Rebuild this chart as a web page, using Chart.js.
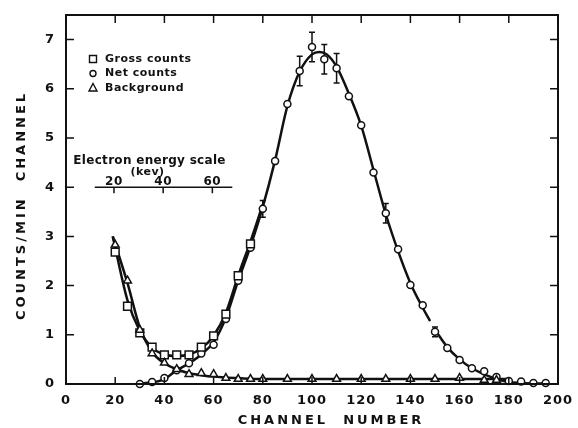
<!DOCTYPE html>
<html>
<head>
<meta charset="utf-8">
<script src="https://cdn.jsdelivr.net/npm/chart.js@4.4.0/dist/chart.umd.min.js"></script>
<style>
  html, body { margin: 0; padding: 0; background: #fff; }
</style>
</head>
<body>
<canvas id="spectrum" width="578" height="428"></canvas>
<script>
// measured points
const grossChannels = [20, 25, 30, 35, 40, 45, 50, 55, 60, 65, 70, 75];
const grossCounts = [2.68, 1.58, 1.04, 0.75, 0.59, 0.59, 0.59, 0.75, 0.98, 1.42, 2.2, 2.85];

const netChannels = [30, 35, 40, 45, 50, 55, 60, 65, 70, 75, 80, 85, 90, 95, 100, 105, 110, 115, 120, 125,
  130, 135, 140, 145, 150, 155, 160, 165, 170, 175, 180, 185, 190, 195];
const netCounts = [0.0, 0.04, 0.12, 0.28, 0.42, 0.62, 0.8, 1.32, 2.1, 2.77, 3.56, 4.53, 5.69, 6.36, 6.85, 6.6, 6.42, 5.85, 5.26, 4.3,
  3.47, 2.74, 2.01, 1.6, 1.06, 0.73, 0.49, 0.32, 0.26, 0.14, 0.06, 0.05, 0.02, 0.02];

const bgChannels = [20, 25, 30, 35, 40, 45, 50, 55, 60, 65, 70, 75, 80, 90, 100, 110, 120, 130, 140, 150, 160, 170, 175];
const bgCounts = [2.83, 2.1, 1.1, 0.62, 0.43, 0.3, 0.2, 0.22, 0.2, 0.12, 0.1, 0.1, 0.1, 0.1, 0.1, 0.1, 0.1, 0.1, 0.1, 0.1, 0.12, 0.08, 0.08];

// hand-drawn smooth curves
const grossCurveX = [19, 25, 30, 35, 40, 45, 50, 55, 60, 65, 70, 75, 80];
const grossCurveY = [3.0, 1.7, 1.08, 0.74, 0.6, 0.57, 0.6, 0.72, 0.98, 1.45, 2.2, 2.9, 3.65];

const netCurveX = [30, 40, 45, 50, 55, 60, 65, 70, 75, 80, 85, 90, 95, 100, 103, 106, 110, 115, 120, 125,
  130, 135, 140, 145, 148, null, 150, 155, 160, 165, 170, 175, 180, 185, 190, 195];
const netCurveY = [0.0, 0.1, 0.28, 0.42, 0.6, 0.85, 1.35, 2.1, 2.8, 3.6, 4.55, 5.65, 6.35, 6.7, 6.75, 6.7, 6.45, 5.9, 5.25, 4.35,
  3.45, 2.7, 2.05, 1.55, 1.28, null, 1.1, 0.75, 0.5, 0.32, 0.2, 0.1, 0.04, 0.02, 0.01, 0.01];

const bgCurveX = [19, 25, 30, 35, 40, 45, 50, 55, 60, 70, 80, 180];
const bgCurveY = [3.0, 2.05, 1.15, 0.65, 0.42, 0.3, 0.22, 0.18, 0.15, 0.12, 0.1, 0.1];

// error bars on net counts
const errChannels = [80, 95, 100, 105, 110, 130, 150];
const errSizes = [0.17, 0.3, 0.3, 0.3, 0.3, 0.2, 0.1];

// ticks
const xTicks = [0, 20, 40, 60, 80, 100, 120, 140, 160, 180, 200];
const yTicks = [0, 1, 2, 3, 4, 5, 6, 7];

// inset energy scale
const energyLabels = ['20', '40', '60'];
const energyTickChannels = [19.5, 39.5, 59.5];
const energyAxisFrom = 11.7;
const energyAxisTo = 67.6;
const energyAxisLevel = 4.0;

const legendItems = [
  { style: 'rect', text: 'Gross counts' },
  { style: 'circle', text: 'Net counts' },
  { style: 'triangle', text: 'Background' }
];

const ink = '#111';
const font = '"DejaVu Sans", sans-serif';

function pts(xs, ys) {
  return xs.map((v, i) => ({ x: v, y: ys[i] }));
}

function drawSymbol(ctx, style, x, y) {
  ctx.beginPath();
  if (style === 'rect') {
    ctx.rect(x - 3.5, y - 3.5, 7, 7);
  } else if (style === 'circle') {
    ctx.arc(x, y, 3, 0, Math.PI * 2);
  } else {
    ctx.moveTo(x, y - 4.5);
    ctx.lineTo(x + 4, y + 3);
    ctx.lineTo(x - 4, y + 3);
    ctx.closePath();
  }
  ctx.fillStyle = '#fff';
  ctx.fill();
  ctx.stroke();
}

const decorations = {
  id: 'decorations',
  beforeDraw(chart) {
    chart.ctx.letterSpacing = '1px';
  },
  beforeDatasetsDraw(chart) {
    const { ctx, scales: { x, y } } = chart;
    ctx.save();
    ctx.strokeStyle = ink;
    ctx.lineWidth = 1.5;
    errChannels.forEach((c, i) => {
      const v = netCounts[netChannels.indexOf(c)];
      const px = x.getPixelForValue(c);
      const top = y.getPixelForValue(v + errSizes[i]);
      const bot = y.getPixelForValue(v - errSizes[i]);
      ctx.beginPath();
      ctx.moveTo(px, top); ctx.lineTo(px, bot);
      ctx.moveTo(px - 3, top); ctx.lineTo(px + 3, top);
      ctx.moveTo(px - 3, bot); ctx.lineTo(px + 3, bot);
      ctx.stroke();
    });
    ctx.restore();
  },
  afterDraw(chart) {
    const { ctx, chartArea: a, scales: { x, y } } = chart;
    ctx.save();
    ctx.strokeStyle = ink;
    ctx.fillStyle = ink;

    // frame
    ctx.lineWidth = 2;
    ctx.strokeRect(a.left, a.top, a.right - a.left, a.bottom - a.top);

    // inward ticks on all four sides
    ctx.lineWidth = 1.5;
    ctx.beginPath();
    xTicks.forEach(t => {
      const px = x.getPixelForValue(t);
      ctx.moveTo(px, a.bottom); ctx.lineTo(px, a.bottom - 7);
      ctx.moveTo(px, a.top); ctx.lineTo(px, a.top + 8);
    });
    yTicks.forEach(t => {
      const py = y.getPixelForValue(t);
      ctx.moveTo(a.left, py); ctx.lineTo(a.left + 8, py);
      ctx.moveTo(a.right, py); ctx.lineTo(a.right - 8, py);
    });
    ctx.stroke();

    // legend
    ctx.lineWidth = 1.4;
    ctx.font = 'bold 11px ' + font;
    ctx.letterSpacing = '0.5px';
    ctx.textBaseline = 'middle';
    ctx.textAlign = 'left';
    legendItems.forEach((item, i) => {
      const ly = a.top + 44 + i * 14.5;
      drawSymbol(ctx, item.style, a.left + 27, ly);
      ctx.fillStyle = ink;
      ctx.fillText(item.text, a.left + 39, ly);
    });

    // electron energy inset
    const ey = y.getPixelForValue(energyAxisLevel);
    ctx.lineWidth = 1.5;
    ctx.beginPath();
    ctx.moveTo(x.getPixelForValue(energyAxisFrom), ey);
    ctx.lineTo(x.getPixelForValue(energyAxisTo), ey);
    energyTickChannels.forEach(c => {
      const px = x.getPixelForValue(c);
      ctx.moveTo(px, ey); ctx.lineTo(px, ey + 6);
    });
    ctx.stroke();
    ctx.textAlign = 'center';
    ctx.textBaseline = 'alphabetic';
    ctx.font = 'bold 12px ' + font;
    energyTickChannels.forEach((c, i) => {
      ctx.fillText(energyLabels[i], x.getPixelForValue(c), ey - 2);
    });
    const midE = x.getPixelForValue((energyAxisFrom + energyAxisTo) / 2);
    ctx.font = 'bold 11px ' + font;
    ctx.fillText('(kev)', midE - 16, ey - 12);
    ctx.font = 'bold 12px ' + font;
    ctx.letterSpacing = '0.3px';
    ctx.fillText('Electron energy scale', midE - 14, ey - 23);

    // axis titles
    ctx.font = 'bold 13px ' + font;
    ctx.letterSpacing = '3px';
    ctx.textBaseline = 'middle';
    ctx.fillText('CHANNEL  NUMBER', (a.left + a.right) / 2 + 19, 421);
    ctx.save();
    ctx.translate(22, (a.top + a.bottom) / 2 + 6);
    ctx.rotate(-Math.PI / 2);
    ctx.fillText('COUNTS/MIN  CHANNEL', 0, 0);
    ctx.restore();

    ctx.restore();
  }
};

const lineStyle = {
  showLine: true,
  pointRadius: 0,
  borderColor: ink,
  borderWidth: 2.5,
  cubicInterpolationMode: 'monotone',
  spanGaps: false,
  fill: false,
  order: 5
};

const pointStyle = {
  showLine: false,
  borderColor: ink,
  backgroundColor: '#fff',
  pointBorderWidth: 1.5,
  clip: false,
  order: 1
};

new Chart(document.getElementById('spectrum'), {
  type: 'scatter',
  data: {
    datasets: [
      { ...lineStyle, label: 'gross curve', data: pts(grossCurveX, grossCurveY) },
      { ...lineStyle, label: 'net curve', data: pts(netCurveX, netCurveY) },
      { ...lineStyle, label: 'background curve', data: pts(bgCurveX, bgCurveY) },
      { ...pointStyle, label: 'Background', data: pts(bgChannels, bgCounts), pointStyle: 'triangle', pointRadius: 4.5 },
      { ...pointStyle, label: 'Gross counts', data: pts(grossChannels, grossCounts), pointStyle: 'rect', pointRadius: 5.5 },
      { ...pointStyle, label: 'Net counts', data: pts(netChannels, netCounts), pointStyle: 'circle', pointRadius: 3.5 }
    ]
  },
  options: {
    responsive: false,
    animation: false,
    layout: { padding: { top: 15, right: 20, left: 0, bottom: 0 } },
    plugins: {
      legend: { display: false },
      tooltip: { enabled: false }
    },
    scales: {
      x: {
        type: 'linear',
        min: 0,
        max: 200,
        afterFit: s => { s.height = 44; s.paddingLeft = 0; s.paddingRight = 0; },
        afterBuildTicks: s => { s.ticks = xTicks.map(v => ({ value: v })); },
        grid: { display: false, drawTicks: false },
        border: { display: false },
        ticks: {
          color: ink,
          padding: 9,
          maxRotation: 0,
          font: { family: font, size: 13, weight: 'bold' }
        }
      },
      y: {
        type: 'linear',
        min: 0,
        max: 7.5,
        afterFit: s => { s.width = 66; s.paddingTop = 0; s.paddingBottom = 0; },
        afterBuildTicks: s => { s.ticks = yTicks.map(v => ({ value: v })); },
        grid: { display: false, drawTicks: false },
        border: { display: false },
        ticks: {
          color: ink,
          padding: 11,
          font: { family: font, size: 13, weight: 'bold' }
        }
      }
    }
  },
  plugins: [decorations]
});
</script>
</body>
</html>
